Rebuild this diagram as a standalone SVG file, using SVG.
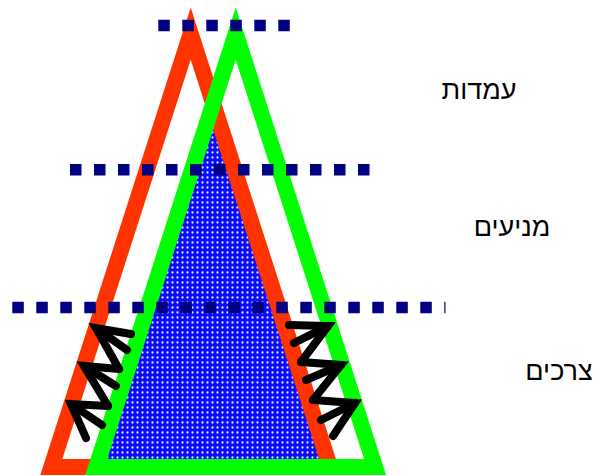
<svg xmlns="http://www.w3.org/2000/svg" width="600" height="476" viewBox="0 0 600 476">
  <defs>
    <pattern id="dots" width="5" height="5" patternUnits="userSpaceOnUse">
      <rect width="5" height="5" fill="#0a0aff"/>
      <circle cx="2.5" cy="2.5" r="1.15" fill="#dfe4ff"/>
    </pattern>
    <style>
      .tri { fill: none; stroke-width: 16; stroke-linejoin: miter; stroke-miterlimit: 10; }
      .red { stroke: #ff3300; }
      .green { stroke: #00ff00; }
      .dotrow { stroke: #000080; stroke-width: 11.5; stroke-dasharray: 11.5 12.5; fill: none; }
      .zz { fill: none; stroke: #000; stroke-width: 8; stroke-linecap: round; stroke-linejoin: miter; stroke-miterlimit: 10; }
      .lbl { font-family: "Liberation Sans", "DejaVu Sans", Arial, sans-serif; font-size: 27px; fill: #000; text-anchor: middle; }
    </style>
  </defs>
  <rect width="600" height="476" fill="#ffffff"/>

  <g id="overlap-fill">
    <polygon points="213.2,103.5 330.1,467 96.3,467" fill="url(#dots)"/>
  </g>

  <g id="triangle-red">
    <polygon class="tri red" points="190.7,33.6 330.1,467 51.3,467"/>
  </g>

  <g id="triangle-green">
    <polygon class="tri green" points="235.7,33.6 375.1,467 96.3,467"/>
  </g>

  <g id="arrows-left">
    <path class="zz" d="M131,334 L96,328 L119,369"/>
    <path class="zz" d="M127,350 L96,328"/>
    <path class="zz" d="M119,369 L84,366 L108,406"/>
    <path class="zz" d="M116,386 L84,366"/>
    <path class="zz" d="M108,406 L71,404 L86,438"/>
    <path class="zz" d="M102,425 L71,404"/>
  </g>

  <g id="arrows-right">
    <path class="zz" d="M289,325 L328,326 L301,362"/>
    <path class="zz" d="M294,343 L328,326"/>
    <path class="zz" d="M301,362 L341,365 L313,400"/>
    <path class="zz" d="M306,380 L341,365"/>
    <path class="zz" d="M313,400 L355,403 L333,436"/>
    <path class="zz" d="M321,420 L355,403"/>
  </g>

  <g id="dotted-lines">
    <line class="dotrow" x1="158.3" y1="25.5" x2="290" y2="25.5"/>
    <line class="dotrow" x1="70" y1="169.7" x2="370" y2="169.7"/>
    <line class="dotrow" x1="12.3" y1="307.5" x2="445.5" y2="307.5"/>
  </g>

  <g id="labels">
    <text class="lbl" x="479" y="99">עמדות</text>
    <text class="lbl" x="512" y="236">מניעים</text>
    <text class="lbl" x="559" y="380">צרכים</text>
  </g>
</svg>
